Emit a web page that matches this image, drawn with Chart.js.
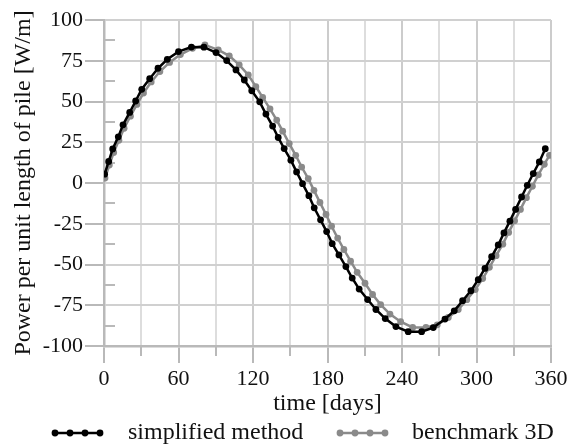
<!DOCTYPE html>
<html>
<head>
<meta charset="utf-8">
<script src="https://cdn.jsdelivr.net/npm/chart.js@4"></script>
<style>
  html, body { margin: 0; padding: 0; background: #fff; }
  #wrap { width: 567px; height: 446px; }
</style>
</head>
<body>
<div id="wrap"><canvas id="powerChart" width="567" height="446"></canvas></div>
<script>
/* Data */

const simplifiedDays = [0.5, 3.8, 7, 11.5, 15.3, 20.7, 25.5, 30.4, 36.8, 43.5, 51, 60, 70.4, 80.5, 90.2, 98.8, 106.3, 113, 119, 125.4, 130.4, 135.8, 140.3, 145.1, 150.5, 155.1, 159.9, 165, 169.3, 174.4, 179.3, 183.8, 189.2, 194.8, 199.9, 205.5, 212.3, 219, 226.5, 235.1, 245, 255.8, 265.2, 274.6, 282.1, 288.8, 295.5, 301.4, 306.8, 312.2, 317.5, 322.1, 326.9, 331.5, 336.3, 340.9, 345.7, 350.6, 355.4];
const simplifiedPower = [5.4, 13.2, 20.9, 28.3, 35.7, 43.3, 50.3, 57.5, 64, 70.4, 75.9, 80.6, 83.4, 83.3, 80, 75.1, 69.4, 63.2, 56.6, 49.8, 42.3, 34.9, 27.9, 21.1, 14, 6.8, -0.4, -7.8, -15.2, -22.6, -29.8, -37.2, -44.1, -51.3, -58.3, -65.1, -71.5, -77.6, -83.2, -88.1, -91.2, -91.2, -88.7, -83.5, -78.4, -72.2, -66.1, -59.3, -52.4, -45.2, -38, -30.6, -23.4, -16.2, -8.6, -1.4, 5.8, 12.9, 21];

const benchmarkDays = [0.8, 4.3, 7.8, 12, 16.2, 21.3, 26.5, 31.8, 38, 45, 52.8, 61.5, 71.3, 81.3, 92, 100.9, 108.9, 116.2, 122.3, 127.8, 133.7, 139.1, 143.9, 149.2, 154.4, 159.2, 164.5, 169.1, 173.9, 178.8, 183.3, 188.2, 193.2, 198.6, 203.9, 210.2, 216.3, 222.8, 230.3, 238.9, 248.6, 259.3, 268.4, 277.3, 285.3, 292.2, 299, 305, 310.4, 315.8, 321.2, 325.9, 330.7, 335.4, 340.2, 345, 349.8, 354.6, 358.8];
const benchmarkPower = [3, 11, 18.7, 26.2, 33.6, 41, 48.2, 55.2, 62, 68.4, 74, 78.8, 82.6, 84.7, 81.7, 78, 72.5, 66.3, 59.1, 52.5, 45.5, 38.6, 31.8, 24.2, 17, 9.8, 2.7, -4.5, -11.9, -19.3, -26.5, -33.8, -40.8, -48, -54.8, -61.5, -68.4, -74.6, -80.4, -85.1, -88.6, -88.6, -87, -82.5, -77.6, -71.6, -65.4, -58.6, -51.7, -44.6, -37.5, -30.3, -23.2, -16.2, -9, -2, 5, 11.5, 17];

const seriesNames = ["simplified method", "benchmark 3D"];
const xTitle = "time [days]";
const yTitle = "Power per unit length of pile [W/m]";
const xRange = [0, 360];
const yRange = [-100, 100];

const serif = "'Liberation Serif', 'Times New Roman', serif";
const axisGrey = "#b9b9b9";

function toPoints(xs, ys) {
    return xs.map((x, i) => ({ x: x, y: ys[i] }));
}

/* Minor tick marks (y: inward at 12.5, x: short marks at 30, 90, ...) */
const minorTicks = {
    id: "minorTicks",
    beforeDatasetsDraw(chart) {
        const { ctx, chartArea, scales } = chart;
        ctx.save();
        ctx.strokeStyle = axisGrey;
        ctx.lineWidth = 2;
        for (let v = yRange[0] + 12.5; v < yRange[1]; v += 25) {
            const y = Math.round(scales.y.getPixelForValue(v));
            ctx.beginPath();
            ctx.moveTo(chartArea.left, y);
            ctx.lineTo(chartArea.left + 11, y);
            ctx.stroke();
        }
        for (let v = 30; v < xRange[1]; v += 60) {
            const x = Math.round(scales.x.getPixelForValue(v));
            ctx.beginPath();
            ctx.moveTo(x, chartArea.bottom);
            ctx.lineTo(x, chartArea.bottom + 10);
            ctx.stroke();
        }
        ctx.restore();
    }
};

/* Legend with a line and four dots, like the original */
const dotLegend = {
    id: "dotLegend",
    afterDraw(chart) {
        const { ctx } = chart;
        const y = 433;
        const items = [
            { ds: chart.data.datasets[0], dots: [55, 70, 85, 100], text: 128 },
            { ds: chart.data.datasets[1], dots: [340, 355, 370, 385], text: 412 }
        ];
        ctx.save();
        items.forEach(item => {
            ctx.strokeStyle = item.ds.borderColor;
            ctx.lineWidth = item.ds.borderWidth;
            ctx.beginPath();
            ctx.moveTo(item.dots[0] - 3, y);
            ctx.lineTo(item.dots[3] + 3, y);
            ctx.stroke();
            ctx.fillStyle = item.ds.pointBackgroundColor;
            item.dots.forEach(x => {
                ctx.beginPath();
                ctx.arc(x, y, item.ds.pointRadius, 0, Math.PI * 2);
                ctx.fill();
            });
            ctx.fillStyle = "#111";
            ctx.font = "24px " + serif;
            ctx.textBaseline = "middle";
            ctx.textAlign = "left";
            ctx.fillText(item.ds.label, item.text, y);
        });
        ctx.restore();
    }
};

const powerChart = new Chart(document.querySelector("#powerChart"), {
    type: "line",
    data: {
        datasets: [
            {
                label: seriesNames[0],
                data: toPoints(simplifiedDays, simplifiedPower),
                borderColor: "#000000",
                backgroundColor: "#000000",
                pointBackgroundColor: "#000000",
                pointBorderWidth: 0,
                pointRadius: 3.4,
                borderWidth: 2.5,
                tension: 0,
                fill: false
            },
            {
                label: seriesNames[1],
                data: toPoints(benchmarkDays, benchmarkPower),
                borderColor: "#8a8a8a",
                backgroundColor: "#8a8a8a",
                pointBackgroundColor: "#8a8a8a",
                pointBorderWidth: 0,
                pointRadius: 3.4,
                borderWidth: 2.5,
                tension: 0,
                fill: false
            }
        ]
    },
    options: {
        responsive: false,
        animation: false,
        layout: {
            padding: { top: 20, right: 16, bottom: 0, left: 0 }
        },
        plugins: {
            legend: { display: false },
            tooltip: { enabled: false }
        },
        scales: {
            x: {
                type: "linear",
                min: xRange[0],
                max: xRange[1],
                afterFit: scale => {
                    scale.height = 100;
                    scale.paddingLeft = 0;
                    scale.paddingRight = 0;
                },
                border: { color: axisGrey, width: 2.5 },
                grid: {
                    color: ctx => ctx.tick && ctx.tick.value % 60 === 0 ? "#cccccc" : "#dddddd",
                    lineWidth: 2,
                    tickLength: 17,
                    tickWidth: 2,
                    tickColor: ctx => ctx.tick && ctx.tick.value % 60 === 0 ? axisGrey : "rgba(0,0,0,0)"
                },
                ticks: {
                    stepSize: 30,
                    autoSkip: false,
                    maxRotation: 0,
                    padding: 3,
                    color: "#111",
                    font: { family: serif, size: 22 },
                    callback: value => value % 60 === 0 ? value : ""
                },
                title: {
                    display: true,
                    text: xTitle,
                    color: "#111",
                    font: { family: serif, size: 24 },
                    padding: { top: 0, bottom: 28 }
                }
            },
            y: {
                min: yRange[0],
                max: yRange[1],
                afterFit: scale => {
                    scale.width = 104;
                    scale.paddingTop = 0;
                    scale.paddingBottom = 0;
                },
                border: { color: axisGrey, width: 2.5 },
                grid: {
                    color: "#d0d0d0",
                    lineWidth: 2,
                    tickLength: 19,
                    tickWidth: 2,
                    tickColor: axisGrey
                },
                ticks: {
                    stepSize: 25,
                    padding: 2,
                    color: "#111",
                    font: { family: serif, size: 22 }
                },
                title: {
                    display: true,
                    text: yTitle,
                    color: "#111",
                    font: { family: serif, size: 24 },
                    padding: { top: 9, bottom: 0 }
                }
            }
        }
    },
    plugins: [minorTicks, dotLegend]
});
</script>
</body>
</html>
